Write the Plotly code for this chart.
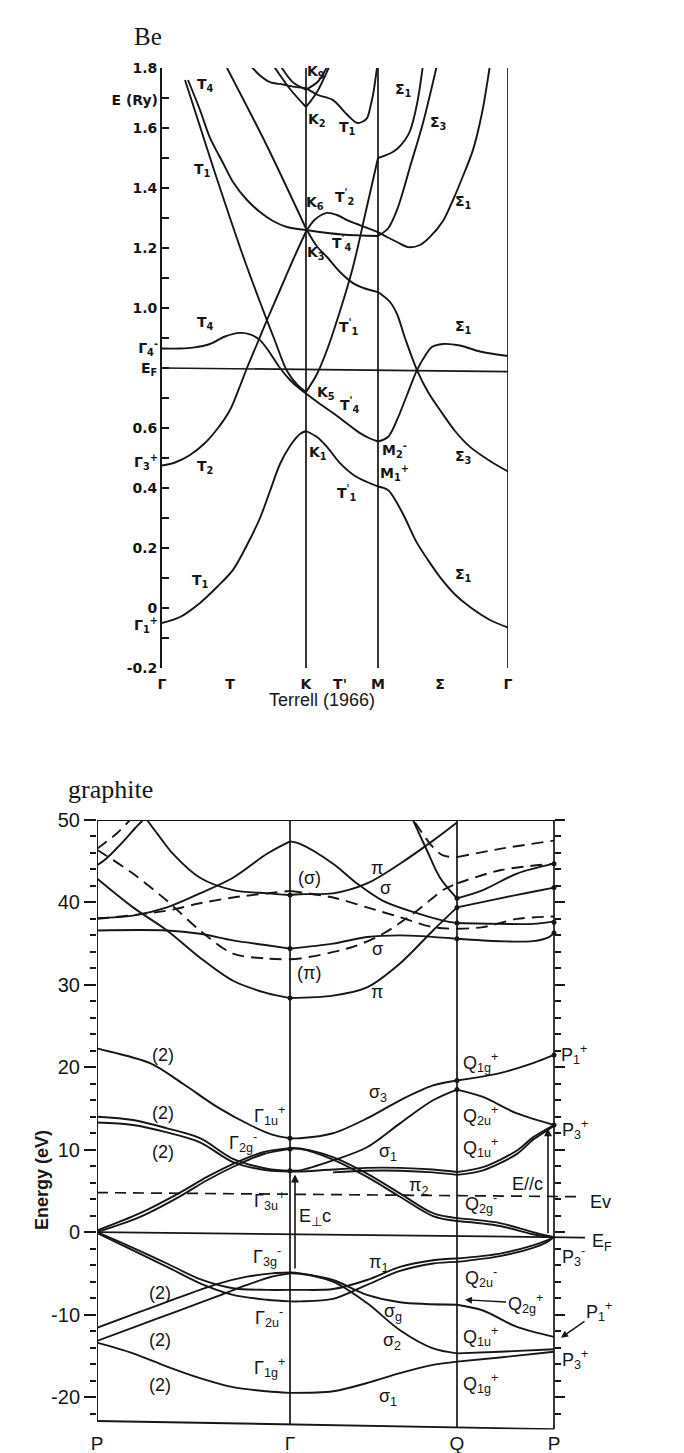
import plotly.graph_objects as go

# ===================== Be (Terrell 1966) =====================
# k-path distance (arbitrary units): Γ, K, M, Γ
BE_KPTS = [0, 144, 216, 346]
BE_XTICKS = [0, 68, 144, 178, 216, 278, 346]
BE_XLABELS = ["Γ", "T", "K", "T'", "M", "Σ", "Γ"]
BE_YTICKS = [round(-0.2 + 0.1 * i, 1) for i in range(21)]
BE_YLABELS = {1.8: "1.8", 1.6: "1.6", 1.4: "1.4", 1.2: "1.2", 1.0: "1.0",
              0.8: "E<sub>F</sub>", 0.6: "0.6", 0.4: "0.4", 0.2: "0.2",
              0.0: "0", -0.2: "-0.2"}
# extra left-hand labels (energy positions)
BE_SIDE_VALS = [1.693, 0.867, 0.487, -0.057]
BE_SIDE_TEXT = ["E (Ry)", "Γ<sub>4</sub><sup>-</sup>", "Γ<sub>3</sub><sup>+</sup>",
                "Γ<sub>1</sub><sup>+</sup>"]

be_ef_x = [0, 346]
be_ef_e = [0.80, 0.788]

# T1 - K1 - T1' - M1+ - Σ1
be_b1_x = [0, 18, 38, 55, 71, 85, 98, 108, 118, 128, 138, 144,
           155, 165, 178, 193, 205, 216,
           226, 235, 243, 255, 268, 278, 293, 308, 328, 346]
be_b1_e = [-0.05, -0.03, 0.017, 0.07, 0.127, 0.21, 0.30, 0.39, 0.48, 0.54, 0.58, 0.59,
           0.57, 0.537, 0.483, 0.44, 0.42, 0.405,
           0.393, 0.35, 0.30, 0.217, 0.15, 0.103, 0.045, 0.003, -0.04, -0.065]
# T2 - K - T2' - M - Σ1 (upper)
be_b2_x = [0, 13, 28, 43, 56, 68, 78, 85, 95, 105, 118, 131, 144,
           153, 165, 175, 185, 195, 205, 216,
           226, 235, 246, 258, 268, 281, 291, 301, 311, 320, 328]
be_b2_e = [0.475, 0.485, 0.51, 0.55, 0.60, 0.66, 0.74, 0.80, 0.88, 0.96, 1.06, 1.16, 1.255,
           1.295, 1.317, 1.31, 1.293, 1.28, 1.267, 1.253,
           1.235, 1.22, 1.203, 1.21, 1.237, 1.29, 1.36, 1.44, 1.527, 1.65, 1.81]
# T1 (upper) - K6 - T4' - M - Σ3
be_b3_x = [26, 38, 48, 60, 71, 85, 98, 111, 125, 144,
           180, 216,
           226, 235, 242, 248, 261, 275]
be_b3_e = [1.76, 1.66, 1.567, 1.49, 1.42, 1.36, 1.32, 1.29, 1.27, 1.26,
           1.245, 1.24,
           1.265, 1.327, 1.40, 1.47, 1.617, 1.81]
# straight band to K6 - K3 - T1' - M - Σ3
be_b4_x = [65, 105, 144,
           155, 165, 178, 191, 203, 216,
           228, 235, 243, 255, 266, 278, 293, 308, 328, 346]
be_b4_e = [1.80, 1.54, 1.265,
           1.205, 1.17, 1.12, 1.083, 1.065, 1.053,
           1.02, 0.98, 0.90, 0.793, 0.72, 0.66, 0.59, 0.537, 0.49, 0.455]
# Γ4- - T4 - K5 - T4' - M2- - Σ1
be_b5_x = [0, 18, 31, 48, 63, 78, 88, 98, 108, 118, 128, 138, 144,
           158, 171, 185, 198, 208, 216,
           226, 235, 245, 255, 263, 270, 281, 298, 318, 346]
be_b5_e = [0.865, 0.865, 0.868, 0.88, 0.905, 0.917, 0.912, 0.893, 0.85, 0.80, 0.76, 0.73, 0.715,
           0.68, 0.65, 0.615, 0.583, 0.565, 0.555,
           0.57, 0.627, 0.71, 0.793, 0.84, 0.87, 0.88, 0.875, 0.855, 0.84]
# T4 (upper) - K5 - T1' - M - Σ1
be_b6_x = [23, 38, 53, 68, 83, 98, 113, 125, 135, 144,
           155, 165, 178, 191, 203, 216,
           228, 235, 243, 248, 255, 261]
be_b6_e = [1.76, 1.605, 1.45, 1.30, 1.155, 1.02, 0.89, 0.79, 0.745, 0.72,
           0.78, 0.86, 0.99, 1.137, 1.31, 1.50,
           1.515, 1.53, 1.56, 1.59, 1.68, 1.81]
# top T1 band through K and up to M
be_b7_x = [88, 98, 108, 121, 131, 144,
           156, 171, 185, 195, 200, 205, 209, 211, 215]
be_b7_e = [1.81, 1.775, 1.753, 1.745, 1.738, 1.733,
           1.71, 1.693, 1.645, 1.617, 1.62, 1.633, 1.68, 1.71, 1.80]
# K2 (V shape)
be_b8_x = [111, 128, 144, 155, 168]
be_b8_e = [1.81, 1.73, 1.67, 1.72, 1.81]
# K9 (U shape)
be_b9_x = [118, 131, 144, 156, 166]
be_b9_e = [1.81, 1.752, 1.728, 1.755, 1.81]

be_labels = [
    ("T<sub>4</sub>", 43, 1.743), ("T<sub>1</sub>", 40, 1.46), ("K<sub>9</sub>", 154, 1.787),
    ("K<sub>2</sub>", 155, 1.627), ("T<sub>1</sub>", 185, 1.60), ("Σ<sub>1</sub>", 241, 1.727),
    ("Σ<sub>3</sub>", 276, 1.617), ("T<sup>'</sup><sub>2</sub>", 182, 1.37), ("K<sub>6</sub>", 153, 1.35),
    ("Σ<sub>1</sub>", 301, 1.353), ("K<sub>3</sub>", 154, 1.183), ("T<sup>'</sup><sub>4</sub>", 180, 1.217),
    ("T<sub>4</sub>", 43, 0.95), ("T<sup>'</sup><sub>1</sub>", 187, 0.937), ("Σ<sub>1</sub>", 301, 0.937),
    ("K<sub>5</sub>", 164, 0.717), ("T<sup>'</sup><sub>4</sub>", 188, 0.677), ("M<sub>2</sub><sup>-</sup>", 232, 0.527),
    ("Σ<sub>3</sub>", 301, 0.503), ("T<sub>2</sub>", 43, 0.47), ("K<sub>1</sub>", 156, 0.517),
    ("M<sub>1</sub><sup>+</sup>", 232, 0.45), ("T<sup>'</sup><sub>1</sub>", 185, 0.383),
    ("T<sub>1</sub>", 38, 0.09), ("Σ<sub>1</sub>", 301, 0.11),
]

# ===================== graphite =====================
# k-path distance (arbitrary units): P, Γ, Q, P
GR_KPTS = [0, 193, 360, 457]
GR_XLABELS = ["P", "Γ", "Q", "P"]
GR_YTICKS = [-20, -10, 0, 10, 20, 30, 40, 50]

gr_ef_x = [0, 488]
gr_ef_e = [0.0, -0.65]
gr_ev_x = [0, 486]
gr_ev_e = [4.8, 4.3]

# solid bands
g1_x = [0, 10, 20, 30, 38, 46]
g1_e = [44.5, 45.4, 46.6, 47.9, 49.0, 50.0]
g3_x = [50, 63, 76, 103, 136, 170, 193, 203, 236, 270, 303, 336, 360]
g3_e = [50.0, 47.9, 45.9, 43.0, 41.5, 41.1, 40.9, 41.0, 41.1, 42.3, 44.7, 47.5, 49.7]
g4_x = [0, 36, 70, 103, 136, 170, 193, 203, 236, 260, 286, 320, 346, 360, 403, 436, 457]
g4_e = [38.1, 38.4, 39.4, 41.1, 43.0, 45.9, 47.4, 47.1, 44.7, 42.3, 40.2, 38.7, 37.8, 37.5, 37.4, 37.4, 37.7]
g7_x = [0, 70, 103, 136, 170, 193, 236, 270, 303, 360, 403, 436, 452, 457]
g7_e = [36.6, 36.6, 36.2, 35.4, 34.8, 34.4, 35.0, 35.8, 36.0, 35.6, 35.3, 35.3, 35.8, 36.3]
g8_x = [0, 36, 70, 103, 136, 170, 193, 236, 270, 303, 336, 360, 403, 436, 457]
g8_e = [42.9, 39.4, 36.6, 33.3, 30.5, 29.0, 28.4, 28.7, 29.7, 32.6, 36.6, 39.4, 40.5, 41.3, 41.8]
g9_x = [316, 330, 343, 360, 386, 420, 457]
g9_e = [50.0, 46.3, 43.0, 40.5, 41.5, 43.5, 44.7]
# dashed bands
g2_x = [0, 20, 33]
g2_e = [46.5, 48.4, 50.0]
g5_x = [0, 36, 70, 103, 136, 170, 193, 203, 253, 286, 320, 346, 360, 403, 457]
g5_e = [46.4, 43.5, 40.2, 36.6, 33.8, 33.2, 33.1, 33.2, 34.5, 36.2, 39.0, 41.5, 42.3, 43.9, 44.7]
g6_x = [0, 70, 103, 136, 193, 236, 270, 303, 336, 360, 386, 420, 457]
g6_e = [38.0, 39.0, 39.9, 40.6, 41.4, 40.6, 39.4, 38.2, 37.0, 36.8, 37.0, 38.0, 38.3]
g10_x = [318, 336, 346, 360, 403, 457]
g10_e = [49.7, 46.7, 45.7, 45.5, 46.5, 47.5]

# middle / valence bands (solid)
g11_x = [0, 3, 53, 86, 120, 153, 176, 193, 203, 236, 270, 303, 336, 360, 403, 436, 457]
g11_e = [22.3, 22.2, 20.5, 18.0, 15.2, 13.0, 11.8, 11.4, 11.4, 12.0, 13.8, 16.0, 17.8, 18.4, 19.3, 20.5, 21.5]
g12a_x = [0, 36, 70, 103, 136, 170, 193, 203, 236, 270, 303, 336, 360, 386, 420, 457]
g12a_e = [14.0, 13.6, 12.6, 11.4, 8.9, 7.7, 7.45, 7.5, 8.7, 10.3, 13.2, 16.0, 17.3, 16.4, 14.4, 13.0]
g12b_x = [0, 36, 70, 103, 136, 170, 193, 203, 236, 270, 303, 336, 360, 386, 420, 436, 457]
g12b_e = [13.3, 13.0, 12.1, 10.9, 8.5, 7.5, 7.35, 7.35, 7.6, 7.8, 7.8, 7.6, 7.3, 7.9, 9.9, 11.5, 13.0]
g12c_x = [236, 270, 303, 336, 360, 386, 420, 436, 457]
g12c_e = [7.25, 7.45, 7.45, 7.25, 6.95, 7.5, 9.5, 11.2, 12.9]
g13a_x = [0, 43, 83, 110, 140, 166, 193, 203, 236, 270, 303, 336, 360, 403, 436, 457]
g13a_e = [0.2, 2.3, 4.8, 6.7, 8.5, 9.7, 10.2, 10.15, 9.1, 7.1, 4.7, 2.3, 1.7, 1.1, 0.0, -0.6]
g13b_x = [0, 43, 83, 110, 140, 166, 193, 203, 236, 270, 303, 336, 360, 403, 436, 457]
g13b_e = [0.0, 1.85, 4.35, 6.3, 8.15, 9.45, 10.1, 10.1, 8.8, 6.7, 4.3, 1.95, 1.35, 0.75, -0.25, -0.6]
g14a_x = [0, 36, 70, 103, 136, 170, 193, 203, 236, 270, 303, 336, 360, 403, 436, 450, 457]
g14a_e = [-0.1, -2.2, -4.2, -6.2, -7.6, -8.2, -8.4, -8.4, -8.1, -6.4, -4.7, -3.8, -3.6, -2.9, -1.9, -1.2, -0.6]
g14b_x = [0, 36, 70, 103, 136, 170, 193, 203, 236, 270, 303, 336, 360, 403, 436, 450, 457]
g14b_e = [0.0, -1.9, -3.8, -5.7, -6.8, -7.0, -7.0, -7.0, -6.9, -5.8, -4.2, -3.4, -3.2, -2.6, -1.6, -1.0, -0.6]
g15a_x = [0, 40, 80, 120, 150, 175, 193, 203, 236, 270, 303, 360, 386, 420, 457]
g15a_e = [-11.6, -9.8, -8.0, -6.3, -5.4, -5.0, -4.9, -5.0, -5.8, -7.6, -8.5, -8.8, -9.5, -11.5, -12.7]
g15b_x = [0, 40, 80, 120, 150, 175, 193, 203, 236, 270, 303, 336, 360, 403, 457]
g15b_e = [-13.2, -11.4, -9.6, -7.8, -6.4, -5.4, -5.0, -5.05, -6.0, -8.6, -11.9, -14.1, -14.7, -14.5, -14.2]
g16_x = [0, 36, 70, 103, 136, 170, 193, 236, 270, 303, 336, 360, 403, 457]
g16_e = [-13.4, -14.7, -16.3, -17.7, -18.8, -19.3, -19.5, -19.3, -18.3, -17.1, -16.1, -15.7, -15.2, -14.5]

# frame (as drawn, slightly skewed scan)
gr_frame_left_e = [-22.9, 50]
gr_frame_bottom_e = [-22.9, -23.9]

gr_dots_x = [193] * 6 + [360] * 6 + [457] * 6
gr_dots_e = [40.9, 34.4, 28.4, 11.4, 10.1, 7.45,
             40.5, 39.4, 37.5, 35.6, 18.4, 17.3,
             44.7, 41.8, 37.6, 36.3, 21.5, 13.0]

gr_labels = [
    ("(σ)", 212, 43.0), ("(π)", 212, 31.4), ("π", 280, 44.2), ("σ", 288, 41.8),
    ("σ", 280, 34.3), ("π", 280, 29.1),
    ("(2)", 66, 21.5), ("(2)", 66, 14.4), ("(2)", 66, 9.7), ("(2)", 63, -7.4),
    ("(2)", 63, -13.1), ("(2)", 63, -18.5),
    ("Γ<sub>1u</sub><sup>+</sup>", 172, 14.2), ("Γ<sub>2g</sub><sup>-</sup>", 146, 10.9),
    ("Γ<sub>3u</sub><sup>+</sup>", 172, 3.9), ("E<sub>⊥</sub>c", 218, 1.8),
    ("Γ<sub>3g</sub><sup>-</sup>", 170, -3.0), ("Γ<sub>2u</sub><sup>-</sup>", 172, -10.4),
    ("Γ<sub>1g</sub><sup>+</sup>", 172, -16.4),
    ("σ<sub>3</sub>", 281, 16.8), ("Q<sub>1g</sub><sup>+</sup>", 383, 20.6),
    ("Q<sub>2u</sub><sup>+</sup>", 383, 14.2), ("P<sub>1</sub><sup>+</sup>", 477, 21.5),
    ("P<sub>3</sub><sup>+</sup>", 478, 12.4), ("σ<sub>1</sub>", 291, 9.7),
    ("Q<sub>1u</sub><sup>+</sup>", 383, 10.3), ("E//c", 430, 5.9), ("π<sub>2</sub>", 321, 5.5),
    ("Q<sub>2g</sub><sup>-</sup>", 384, 3.5), ("Ev", 503, 3.6), ("E<sub>F</sub>", 505, -1.2),
    ("P<sub>3</sub><sup>-</sup>", 476, -3.0), ("π<sub>1</sub>", 281, -3.8),
    ("Q<sub>2u</sub><sup>-</sup>", 384, -5.5), ("σ<sub>g</sub>", 296, -9.8),
    ("σ<sub>2</sub>", 295, -13.3), ("Q<sub>1u</sub><sup>+</sup>", 383, -12.7),
    ("P<sub>3</sub><sup>+</sup>", 478, -15.5), ("Q<sub>1g</sub><sup>+</sup>", 383, -18.3),
    ("σ<sub>1</sub>", 291, -20.0),
]

INK = "#161616"


def split_at(xs, es, kpts):
    segs, cx, ce = [], [xs[0]], [es[0]]
    for x, e in zip(xs[1:], es[1:]):
        cx.append(x)
        ce.append(e)
        if x in kpts:
            segs.append((cx, ce))
            cx, ce = [x], [e]
    if len(cx) > 1:
        segs.append((cx, ce))
    return segs


fig = go.Figure()


def add_band(xs, es, kpts, xa, ya, dash="solid", width=1.9):
    for sx, se in split_at(xs, es, kpts):
        fig.add_trace(go.Scatter(
            x=sx, y=se, mode="lines", xaxis=xa, yaxis=ya, showlegend=False,
            hoverinfo="skip",
            line=dict(color=INK, width=width, dash=dash,
                      shape="spline" if len(sx) > 2 else "linear", smoothing=0.9)))


def add_line(xs, es, xa, ya, dash="solid", width=1.8):
    fig.add_trace(go.Scatter(x=xs, y=es, mode="lines", xaxis=xa, yaxis=ya,
                             showlegend=False, hoverinfo="skip",
                             line=dict(color=INK, width=width, dash=dash)))


# ---- Be traces ----
for k in BE_KPTS[1:]:
    add_line([k, k], [-0.21, 1.8], "x", "y", width=1.7)
add_line(be_ef_x, be_ef_e, "x", "y", width=1.7)
for bx, be in [(be_b1_x, be_b1_e), (be_b2_x, be_b2_e), (be_b3_x, be_b3_e),
               (be_b4_x, be_b4_e), (be_b5_x, be_b5_e), (be_b6_x, be_b6_e),
               (be_b7_x, be_b7_e), (be_b8_x, be_b8_e), (be_b9_x, be_b9_e)]:
    add_band(bx, be, BE_KPTS, "x", "y")
# carrier for the side-label axis
fig.add_trace(go.Scatter(x=[0], y=[0], mode="markers", xaxis="x", yaxis="y4",
                         showlegend=False, hoverinfo="skip", marker=dict(opacity=0)))

# ---- graphite traces ----
add_line([GR_KPTS[0], GR_KPTS[0]], gr_frame_left_e, "x2", "y2", width=1.9)
add_line([GR_KPTS[0], GR_KPTS[-1]], gr_frame_bottom_e, "x2", "y2", width=1.9)
add_line([GR_KPTS[0], GR_KPTS[-1] + 9], [50, 50], "x2", "y2", width=1.9)
for k, lo in zip(GR_KPTS[1:], [-23.3, -23.7, -23.9]):
    add_line([k, k], [lo, 50], "x2", "y2", width=1.7)
add_line(gr_ef_x, gr_ef_e, "x2", "y2", width=1.7)
add_line(gr_ev_x, gr_ev_e, "x2", "y2", dash="11px,7px", width=1.7)

for bx, be in [(g1_x, g1_e), (g3_x, g3_e), (g4_x, g4_e), (g7_x, g7_e), (g8_x, g8_e),
               (g9_x, g9_e), (g11_x, g11_e), (g12a_x, g12a_e), (g12b_x, g12b_e),
               (g12c_x, g12c_e), (g13a_x, g13a_e), (g13b_x, g13b_e),
               (g14a_x, g14a_e), (g14b_x, g14b_e), (g15a_x, g15a_e),
               (g15b_x, g15b_e), (g16_x, g16_e)]:
    add_band(bx, be, GR_KPTS, "x2", "y2")
for bx, be in [(g2_x, g2_e), (g5_x, g5_e), (g6_x, g6_e), (g10_x, g10_e)]:
    add_band(bx, be, GR_KPTS, "x2", "y2", dash="12px,7px")

fig.add_trace(go.Scatter(x=gr_dots_x, y=gr_dots_e, mode="markers", xaxis="x2", yaxis="y2",
                         showlegend=False, hoverinfo="skip",
                         marker=dict(color=INK, size=5)))
# carrier for the right-hand tick axis
fig.add_trace(go.Scatter(x=[GR_KPTS[-1]], y=[0], mode="markers", xaxis="x2", yaxis="y3",
                         showlegend=False, hoverinfo="skip", marker=dict(opacity=0)))

ann = []
BE_FONT = dict(family="DejaVu Sans", size=14, color=INK, weight="bold")
BE_TICK = dict(family="DejaVu Sans", size=14, color=INK, weight="bold")
GR_FONT = dict(family="Liberation Sans", size=18, color=INK)
for t, x, y in be_labels:
    ann.append(dict(text=t, x=x, y=y, xref="x", yref="y", showarrow=False, font=BE_FONT,
                    xanchor="center", yanchor="middle"))
for t, x, y in gr_labels:
    ann.append(dict(text=t, x=x, y=y, xref="x2", yref="y2", showarrow=False, font=GR_FONT,
                    xanchor="center", yanchor="middle"))
# arrows
ann.append(dict(text="", x=198, y=7.0, ax=198, ay=-4.6, xref="x2", yref="y2",
                axref="x2", ayref="y2", showarrow=True, arrowhead=2, arrowsize=1,
                arrowwidth=1.6, arrowcolor=INK))
ann.append(dict(text="", x=451, y=12.6, ax=451, ay=-0.3, xref="x2", yref="y2",
                axref="x2", ayref="y2", showarrow=True, arrowhead=2, arrowsize=1,
                arrowwidth=1.6, arrowcolor=INK))
ann.append(dict(text="Q<sub>2g</sub><sup>+</sup>", x=368, y=-8.2, ax=428, ay=-8.6,
                xref="x2", yref="y2", axref="x2", ayref="y2", showarrow=True,
                arrowhead=2, arrowwidth=1.4, arrowcolor=INK, font=GR_FONT))
ann.append(dict(text="P<sub>1</sub><sup>+</sup>", x=464, y=-12.8, ax=502, ay=-9.6,
                xref="x2", yref="y2", axref="x2", ayref="y2", showarrow=True,
                arrowhead=2, arrowwidth=1.4, arrowcolor=INK, font=GR_FONT))
# titles
ann.append(dict(text="Be", x=148 / 684, y=1 - 36 / 1453, xref="paper", yref="paper",
                xanchor="center", yanchor="middle", showarrow=False,
                font=dict(family="Liberation Serif", size=25, color=INK)))
ann.append(dict(text="Terrell (1966)", x=322 / 684, y=1 - 700 / 1453, xref="paper", yref="paper",
                xanchor="center", yanchor="middle", showarrow=False,
                font=dict(family="Liberation Sans", size=18, color=INK)))
ann.append(dict(text="graphite", x=110 / 684, y=1 - 790 / 1453, xref="paper", yref="paper",
                xanchor="center", yanchor="middle", showarrow=False,
                font=dict(family="Liberation Serif", size=26, color=INK)))
ann.append(dict(text="<b>Energy (eV)</b>", x=42 / 684, y=1 - 1180 / 1453, xref="paper",
                yref="paper", xanchor="center", yanchor="middle", textangle=-90,
                showarrow=False, font=dict(family="Liberation Sans", size=18, color=INK)))

fig.update_layout(
    width=684, height=1453, margin=dict(l=0, r=0, t=0, b=0, pad=0),
    paper_bgcolor="white", plot_bgcolor="white", annotations=ann,
    xaxis=dict(domain=[162 / 684, 508 / 684], range=[0, 346], anchor="y",
               tickmode="array", tickvals=BE_XTICKS, ticktext=BE_XLABELS, ticks="",
               ticklabelstandoff=6,
               showline=False, showgrid=False, zeroline=False, automargin=False,
               tickfont=BE_TICK),
    yaxis=dict(domain=[1 - 668 / 1453, 1 - 68 / 1453], range=[-0.2, 1.8], anchor="x",
               tickmode="array", tickvals=BE_YTICKS,
               ticktext=[BE_YLABELS.get(v, "") for v in BE_YTICKS],
               ticks="inside", ticklen=7, tickwidth=1.6, tickcolor=INK,
               showline=True, linewidth=1.9, linecolor=INK, automargin=False,
               showgrid=False, zeroline=False,
               tickfont=BE_TICK),
    yaxis4=dict(overlaying="y", anchor="x", side="left", range=[-0.2, 1.8],
                tickmode="array", tickvals=BE_SIDE_VALS, ticktext=BE_SIDE_TEXT,
                ticks="", ticklabelstandoff=3,
                showline=False, showgrid=False, zeroline=False, automargin=False,
                tickfont=BE_TICK),
    xaxis2=dict(domain=[97 / 684, 627 / 684], range=[0, 530], anchor="y2",
                tickmode="array", tickvals=GR_KPTS, ticktext=GR_XLABELS, ticks="",
                showline=False, showgrid=False, zeroline=False, automargin=False,
                tickfont=dict(family="Liberation Sans", size=19, color=INK)),
    yaxis2=dict(domain=[1 - 1429.6 / 1453, 1 - 820 / 1453], range=[-23.95, 50], anchor="x2",
                tickmode="array", tickvals=GR_YTICKS, ticktext=[str(v) for v in GR_YTICKS],
                ticks="outside", ticklen=12, tickwidth=2, tickcolor=INK,
                minor=dict(tick0=0, dtick=2, ticks="outside", ticklen=6, tickwidth=1.5,
                           tickcolor=INK),
                showline=False, showgrid=False, zeroline=False, automargin=False,
                tickfont=dict(family="Liberation Sans", size=20, color=INK)),
    yaxis3=dict(overlaying="y2", anchor="free", position=554 / 684, side="right",
                range=[-23.95, 50], tickmode="linear", tick0=0, dtick=10,
                ticks="outside", ticklen=10, tickwidth=2, tickcolor=INK,
                minor=dict(tick0=0, dtick=2, ticks="outside", ticklen=6, tickwidth=1.5,
                           tickcolor=INK),
                showticklabels=False, showline=False, showgrid=False, zeroline=False,
                automargin=False),
)

fig.write_html("out.html", config={"displayModeBar": False},
               post_script="document.body.style.margin='0px';")
